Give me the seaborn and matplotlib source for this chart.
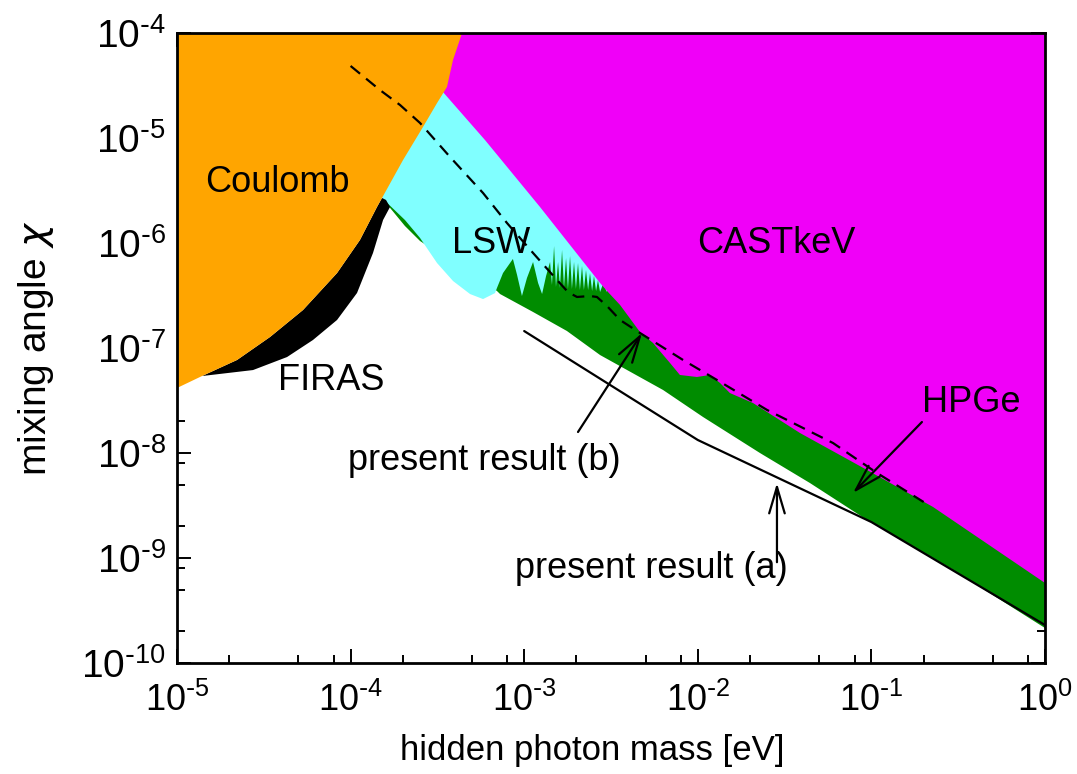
import numpy as np
import matplotlib
matplotlib.use('Agg')
import matplotlib.pyplot as plt
from matplotlib.ticker import FixedLocator, NullFormatter, FuncFormatter
import seaborn as sns

# region boundaries, as log10(mass / eV) and log10(chi)
coulomb_logm = [-5.0, -4.856, -4.654, -4.464, -4.274, -4.078, -3.946, -3.848,
                -3.819, -3.698, -3.583, -3.502, -3.445, -3.410, -3.358]
coulomb_logchi = [-7.381, -7.267, -7.114, -6.895, -6.638, -6.286, -5.971, -5.657,
                  -5.571, -5.210, -4.895, -4.667, -4.514, -4.257, -4.0]

# lower edge of the FIRAS band (upper edge is the Coulomb curve)
firas_logm = [-4.856, -4.562, -4.366, -4.217, -4.078, -3.963, -3.871, -3.813, -3.773, -3.796]
firas_logchi = [-7.267, -7.210, -7.086, -6.924, -6.733, -6.476, -6.095, -5.781, -5.657, -5.590]

# lower edge of the LSW region, with the HPGe spikes poking through
lsw_logm = [-3.813, -3.687, -3.600, -3.502, -3.410, -3.312, -3.237, -3.168,
            -3.157, -3.122, -3.065, -3.041, -3.013, -2.984, -2.949, -2.920, -2.897,
            -2.874, -2.851, -2.840, -2.828, -2.817, -2.805, -2.794, -2.782, -2.771,
            -2.759, -2.748, -2.736, -2.725, -2.713, -2.702, -2.690, -2.679, -2.667,
            -2.656, -2.644, -2.632, -2.621, -2.609, -2.598, -2.586, -2.575, -2.563,
            -2.546, -2.523]
lsw_logchi = [-5.581, -5.781, -5.952, -6.191, -6.362, -6.486, -6.534, -6.477,
              -6.429, -6.286, -6.152, -6.305, -6.505, -6.333, -6.181, -6.381, -6.486,
              -6.314, -6.181, -6.400, -6.029, -6.419, -6.181, -6.429, -6.067, -6.429,
              -6.143, -6.438, -6.124, -6.438, -6.181, -6.438, -6.190, -6.448, -6.219,
              -6.448, -6.257, -6.448, -6.286, -6.457, -6.314, -6.457, -6.352, -6.467,
              -6.390, -6.467]

# lower edge of the HPGe region
hpge_logm = [-3.796, -3.687, -3.600, -3.157, -3.139, -2.949, -2.754, -2.563,
             -2.200, -1.970, -1.642, -1.354, -1.025, -0.547, 0.0]
hpge_logchi = [-5.619, -5.838, -5.981, -6.457, -6.486, -6.657, -6.838, -7.067,
               -7.4, -7.657, -8.0, -8.286, -8.638, -9.095, -9.667]

# lower-left edge of the CAST keV region
cast_logm = [-3.468, -3.468, -3.226, -2.909, -2.563, -2.523, -2.448, -2.333, -2.258,
             -2.160, -2.103, -2.005, -1.930, -1.872, -1.815, -1.682, -1.411, -1.025,
             -0.645, 0.0]
cast_logchi = [-4.0, -4.562, -5.019, -5.657, -6.381, -6.457, -6.590, -6.848, -6.952,
               -7.143, -7.257, -7.276, -7.257, -7.333, -7.429, -7.524, -7.810, -8.162,
               -8.514, -9.238]

# present result (b): dashed, present result (a): solid
dashed_logm = [-4.0, -3.831, -3.715, -3.600, -3.427, -3.237, -3.099, -2.949, -2.811,
               -2.748, -2.696, -2.621, -2.581, -2.523, -2.448, -2.333, -2.085, -1.889,
               -1.601, -1.221, -0.968, -0.699]
dashed_logchi = [-4.314, -4.543, -4.686, -4.857, -5.181, -5.524, -5.810, -6.095, -6.352,
                 -6.467, -6.514, -6.505, -6.514, -6.600, -6.733, -6.857, -7.114, -7.305,
                 -7.590, -7.905, -8.190, -8.467]
solid_m = [1e-3, 1e-2, 1e-1, 1.0]
solid_chi = [1.45e-7, 1.33e-8, 2.2e-9, 2.3e-10]

x_decades = list(range(-5, 1))
y_decades = list(range(-10, -3))
minor_subs = [2, 5, 8]

sns.set_style('ticks')
plt.rcParams['font.family'] = ['Liberation Sans', 'DejaVu Sans']
plt.rcParams['mathtext.fontset'] = 'dejavusans'
for k in ['text.color', 'axes.labelcolor', 'xtick.color', 'ytick.color', 'axes.edgecolor']:
    plt.rcParams[k] = 'black'

fig = plt.figure(figsize=(10.77, 7.74), dpi=100)
ax = fig.add_axes([177 / 1077, 1 - 663 / 774, 868 / 1077, 630 / 774])
ax.set_xscale('log')
ax.set_yscale('log')
ax.set_xlim(1e-5, 1.0)
ax.set_ylim(1e-10, 1e-4)

def pts(lm, lc):
    return np.column_stack([10.0 ** np.asarray(lm), 10.0 ** np.asarray(lc)])

c_m = np.array(coulomb_logm)
c_c = np.array(coulomb_logchi)

# HPGe (green): lower edge, then closed high up where other regions cover it
green = np.vstack([pts(hpge_logm, hpge_logchi),
                   pts([0.0, -2.5, -3.83], [-8.5, -5.5, -5.5])])
ax.fill(green[:, 0], green[:, 1], color='#008c00', lw=0)

# LSW (cyan)
cyan = np.vstack([pts([-3.86], [-5.45]), pts(lsw_logm, lsw_logchi),
                  pts([-2.50, -3.86], [-4.45, -4.45])])
ax.fill(cyan[:, 0], cyan[:, 1], color='#80ffff', lw=0)

# CAST keV (magenta)
mag = np.vstack([pts(cast_logm, cast_logchi), pts([0.0], [-4.0])])
ax.fill(mag[:, 0], mag[:, 1], color='#f000f8', lw=0)

# FIRAS (black): lower edge + Coulomb curve back
sel = (c_m > -4.86) & (c_m < -3.80)
firas = np.vstack([pts(firas_logm, firas_logchi), pts(c_m[sel][::-1], c_c[sel][::-1])])
ax.fill(firas[:, 0], firas[:, 1], color='black', lw=0)

# Coulomb (orange)
orange = np.vstack([pts([-5.0], [-4.0]), pts(c_m, c_c)])
ax.fill(orange[:, 0], orange[:, 1], color='#ffa500', lw=0)

sns.lineplot(x=10.0 ** np.array(dashed_logm), y=10.0 ** np.array(dashed_logchi), ax=ax,
             color='black', lw=1.6, sort=False, estimator=None, linestyle=(0, (5.5, 3.5)))
sns.lineplot(x=solid_m, y=solid_chi, ax=ax, color='black', lw=1.6, sort=False, estimator=None)

arrow = dict(arrowstyle='->,head_length=0.95,head_width=0.28', mutation_scale=20,
             color='black', lw=1.6, shrinkA=0, shrinkB=0)
ax.annotate('', xy=(10 ** -2.321, 10 ** -6.857), xytext=(10 ** -2.690, 10 ** -7.80), arrowprops=arrow)
ax.annotate('', xy=(10 ** -1.544, 10 ** -8.286), xytext=(10 ** -1.544, 10 ** -9.04), arrowprops=arrow)
ax.annotate('', xy=(10 ** -1.106, 10 ** -8.381), xytext=(10 ** -0.709, 10 ** -7.705), arrowprops=arrow)

fs = 26
labels = [('Coulomb', -4.839, -5.514), ('FIRAS', -4.418, -7.40), ('LSW', -3.416, -6.095),
          ('CASTkeV', -2.005, -6.095), ('HPGe', -0.709, -7.610),
          ('present result (b)', -4.015, -8.162), ('present result (a)', -3.053, -9.190)]
for s, lx, ly in labels:
    ax.text(10 ** lx, 10 ** ly, s, fontsize=fs, ha='left', va='baseline', color='black')

def pow10(v, pos):
    e = int(round(np.log10(v)))
    if e < 0:
        return r'$\mathdefault{10^{\text{-}%d}}$' % (-e)
    return r'$\mathdefault{10^{%d}}$' % e

ax.xaxis.set_major_locator(FixedLocator([10.0 ** e for e in x_decades]))
ax.yaxis.set_major_locator(FixedLocator([10.0 ** e for e in y_decades]))
ax.xaxis.set_minor_locator(FixedLocator([s * 10.0 ** e for e in x_decades[:-1] for s in minor_subs]))
ax.yaxis.set_minor_locator(FixedLocator([s * 10.0 ** e for e in y_decades[:-1] for s in minor_subs]))
ax.xaxis.set_major_formatter(FuncFormatter(pow10))
ax.yaxis.set_major_formatter(FuncFormatter(pow10))
ax.xaxis.set_minor_formatter(NullFormatter())
ax.yaxis.set_minor_formatter(NullFormatter())
ax.tick_params(which='both', direction='in', top=True, right=True, width=1.4, colors='black')
ax.tick_params(which='major', length=10)
ax.tick_params(which='minor', length=5.5)
ax.tick_params(axis='y', labelsize=28, pad=8)
ax.tick_params(axis='x', labelsize=26, pad=14)
for sp in ax.spines.values():
    sp.set_linewidth(2)
    sp.set_color('black')

ax.set_xlabel('hidden photon mass [eV]', fontsize=25)
ax.set_ylabel(r'mixing angle $\chi$', fontsize=28)
ax.xaxis.set_label_coords(0.478, -0.112)
ax.yaxis.set_label_coords(-0.139, 0.5)

fig.savefig('out.png', dpi=100)
